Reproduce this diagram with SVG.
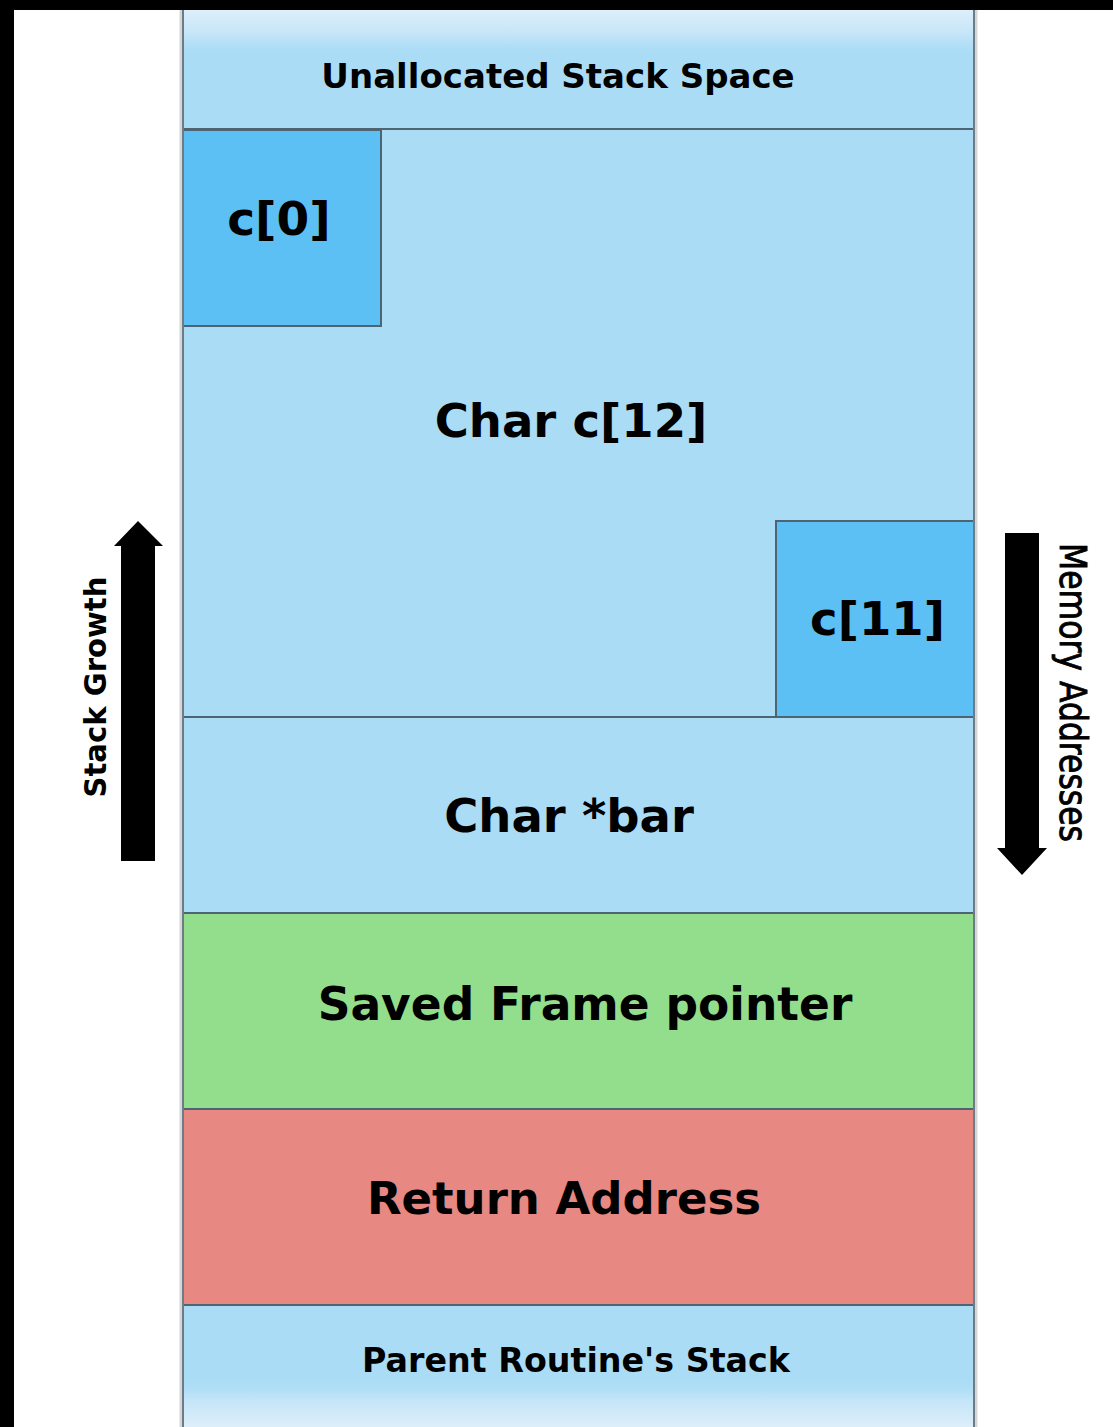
<svg xmlns="http://www.w3.org/2000/svg" width="1113" height="1427" viewBox="0 0 1113 1427">
  <style>
    .cell { stroke: #4f6473; stroke-width: 2; }
    .light { fill: #abdcf6; }
    .elem { fill: #5cc0f4; }
    .frame { fill: #93de8c; }
    .ret { fill: #e78883; }
    .lbl { font-family: "DejaVu Sans", Verdana, sans-serif; font-weight: bold; fill: #000; text-anchor: middle; }
    .big { font-size: 46px; }
    .small { font-size: 33px; }
    .side { font-family: "DejaVu Sans", Verdana, sans-serif; fill: #000; text-anchor: middle; }
  </style>
  <defs>
    <linearGradient id="fadeTop" x1="0" y1="0" x2="0" y2="1">
      <stop offset="0" stop-color="#ddeefa"/>
      <stop offset="0.55" stop-color="#c4e5f8"/>
      <stop offset="1" stop-color="#abdcf6" stop-opacity="0"/>
    </linearGradient>
    <linearGradient id="fadeBottom" x1="0" y1="0" x2="0" y2="1">
      <stop offset="0" stop-color="#abdcf6" stop-opacity="0"/>
      <stop offset="0.45" stop-color="#c4e5f8"/>
      <stop offset="1" stop-color="#ddeefa"/>
    </linearGradient>
  </defs>

  <!-- page background and dark borders -->
  <rect x="0" y="0" width="1113" height="1427" fill="#ffffff"/>
  <rect x="0" y="0" width="1113" height="10" fill="#000"/>
  <rect x="0" y="0" width="14" height="1427" fill="#000"/>

  <!-- stack column -->
  <g id="unallocated">
    <rect class="light" x="183" y="10" width="791" height="119"/>
    <rect x="183" y="10" width="791" height="46" fill="url(#fadeTop)"/>
    <text class="lbl" x="558" y="88" style="font-size:34px">Unallocated Stack Space</text>
  </g>

  <g id="char-array">
    <rect class="light cell" x="183" y="129" width="791" height="588"/>
    <text class="lbl" x="571" y="437" style="font-size:46.5px">Char c[12]</text>
  </g>

  <g id="c0">
    <rect class="elem cell" x="183" y="130" width="198" height="196"/>
    <text class="lbl" x="279" y="235" style="font-size:47px">c[0]</text>
  </g>

  <g id="c11">
    <rect class="elem cell" x="776" y="521" width="198" height="196"/>
    <text class="lbl" x="877.5" y="635" style="font-size:46.5px">c[11]</text>
  </g>

  <g id="bar">
    <rect class="light cell" x="183" y="717" width="791" height="196"/>
    <text class="lbl" x="569" y="832" style="font-size:46.5px">Char *bar</text>
  </g>

  <g id="saved-fp">
    <rect class="frame cell" x="183" y="913" width="791" height="196"/>
    <text class="lbl" x="585" y="1020" style="font-size:45.5px">Saved Frame pointer</text>
  </g>

  <g id="return-address">
    <rect class="ret cell" x="183" y="1109" width="791" height="196"/>
    <text class="lbl" x="564" y="1214" style="font-size:45px">Return Address</text>
  </g>

  <g id="parent-stack">
    <rect class="light" x="183" y="1305" width="791" height="122"/>
    <rect x="183" y="1378" width="791" height="49" fill="url(#fadeBottom)"/>
    <line x1="183" y1="1305" x2="974" y2="1305" stroke="#4f6473" stroke-width="2"/>
    <text class="lbl" x="576" y="1372" style="font-size:33.3px">Parent Routine's Stack</text>
  </g>

  <!-- column side edges -->
  <g id="edges" stroke-width="2">
    <line x1="181" y1="10" x2="181" y2="1427" stroke="#d6d6d6" stroke-width="3"/>
    <line x1="976" y1="10" x2="976" y2="1427" stroke="#d6d6d6" stroke-width="3"/>
    <line x1="183" y1="10" x2="183" y2="1427" stroke="#6b7b88"/>
    <line x1="974" y1="10" x2="974" y2="1427" stroke="#6b7b88"/>
  </g>

  <!-- direction arrows -->
  <g id="arrows" fill="#000">
    <polygon points="138,521 163,546 155,546 155,861 121,861 121,546 114,546"/>
    <polygon points="1005,533 1039,533 1039,848 1047,848 1022,875 997,848 1005,848"/>
  </g>

  <g id="stack-growth">
    <text class="side" x="0" y="0" transform="translate(106,687) rotate(-90)" style="font-size:30px;font-weight:bold" textLength="221" lengthAdjust="spacingAndGlyphs">Stack Growth</text>
  </g>

  <g id="memory-addresses">
    <text class="side" x="0" y="0" transform="translate(1060,692.5) rotate(90)" style="font-size:37px" stroke="#000" stroke-width="0.9" textLength="299" lengthAdjust="spacingAndGlyphs">Memory Addresses</text>
  </g>
</svg>
